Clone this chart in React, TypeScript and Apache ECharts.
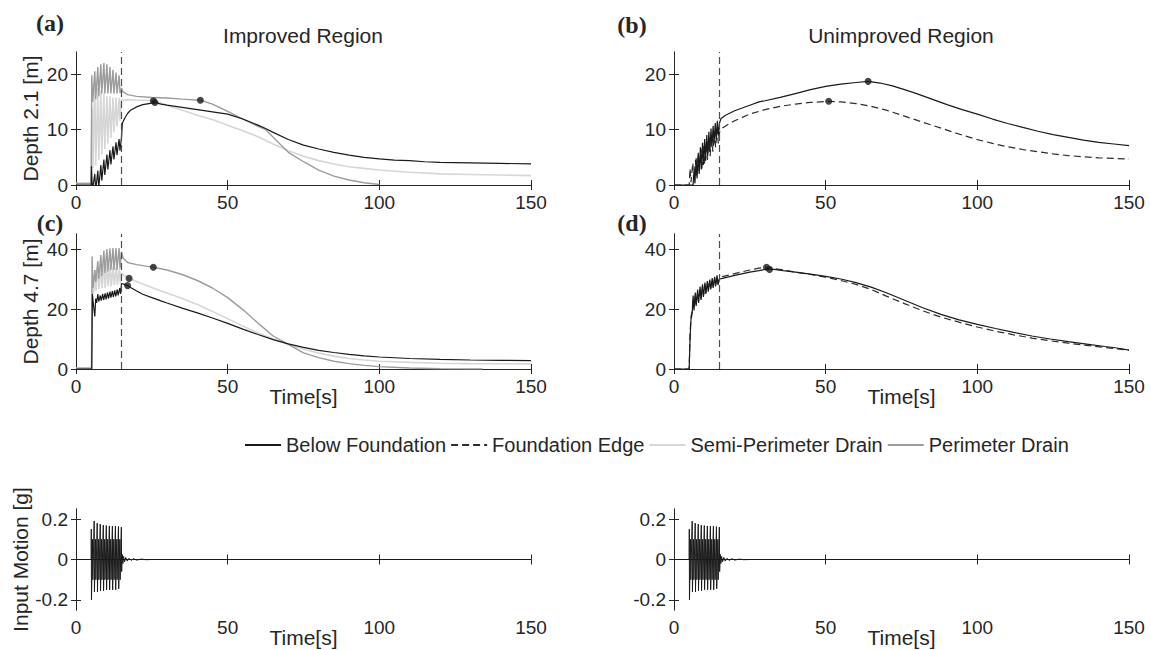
import React, { useEffect, useRef } from 'react';
import * as echarts from 'echarts';

const FONT = '"Liberation Sans", Arial, Helvetica, sans-serif';
const SERIF = '"Liberation Serif", "Times New Roman", serif';
const TEXT = '#262626';

// ---- ticks ----
const X_TICKS = [0, 50, 100, 150];
const Y_TICKS_D21 = [0, 10, 20];
const Y_TICKS_D47 = [0, 20, 40];
const Y_TICKS_INPUT = [-0.2, 0, 0.2];
const SHAKE_END = 15;

// ---- legend / series names ----
const NAMES = ['Below Foundation', 'Foundation Edge', 'Semi-Perimeter Drain', 'Perimeter Drain'];

// ---- (a) Improved region, depth 2.1 m ----
const A_BELOW = [[0,0],[5,0],[5.1,3.4],[5.4,-1],[6.2,2.0],[6.5,-1],[7.2,2.6],[7.5,-0.5],[8.2,3.6],[8.5,0.8],[9.2,4.6],[9.5,1.8],[10.2,5.5],[10.5,2.8],[11.2,6.3],[11.5,3.7],[12.2,7.0],[12.5,4.6],[13.2,7.7],[13.5,5.4],[14.2,8.3],[14.5,6.2],[15,8.6],[15.3,11.2],[16,12.0],[17,12.9],[18,13.5],[20,14.1],[22,14.5],[24,14.7],[26,14.9],[28,14.6],[30,14.4],[35,14.0],[40,13.6],[45,13.2],[50,12.8],[55,11.9],[60,10.8],[62.5,10.2],[65,9.5],[70,8.2],[75,7.2],[80,6.5],[85,5.9],[90,5.4],[95,5.0],[100,4.7],[105,4.5],[110,4.4],[115,4.2],[120,4.1],[130,4.0],[140,3.9],[150,3.8]];
const A_SEMI = [[0,0.3],[5,0.3],[5.3,14],[5.6,3],[6.2,19.5],[6.5,3.5],[7.2,17.5],[7.5,4.5],[8.2,17],[8.5,5.5],[9.2,16.5],[9.5,6.5],[10.2,16],[10.5,7.5],[11.2,16],[11.5,8.5],[12.2,15.8],[12.5,9.5],[13.2,15.8],[13.5,10.5],[14.2,15.7],[14.5,11.5],[15,15.5],[15.5,15.3],[17,15.4],[20,15.3],[23,15.3],[25.5,15.2],[28,14.8],[30,14.4],[35,13.5],[40,12.6],[45,11.8],[50,10.8],[55,9.8],[60,8.7],[65,7.4],[70,6.2],[75,5.2],[80,4.4],[85,3.8],[90,3.3],[95,3.0],[100,2.7],[110,2.3],[120,2.0],[130,1.9],[140,1.8],[150,1.7]];
const A_PERIM = [[0,0.3],[5,0.3],[5.2,19.8],[5.5,15],[6.2,20.5],[6.5,15.5],[7.2,21.3],[7.5,16],[8.2,21.8],[8.5,16.5],[9.2,22],[9.5,16.5],[10.2,21.8],[10.5,16.5],[11.2,21.3],[11.5,16.5],[12.2,20.8],[12.5,16.5],[13.2,20.3],[13.5,16.5],[14.2,19.8],[14.5,16.6],[15,17.5],[15.5,16.8],[17,16.3],[20,16.0],[25,15.8],[30,15.7],[35,15.5],[41,15.3],[45,14.6],[50,13.3],[55,11.9],[60,10.6],[62.5,10.0],[65,8.6],[70,5.9],[75,4.2],[80,2.7],[85,1.6],[90,0.9],[95,0.4],[100,0.1]];
const A_PEAKS = [[25.5,15.2],[26,14.9],[41,15.3]];

// ---- (b) Unimproved region, depth 2.1 m ----
const B_BELOW = [[0,0],[6.3,0],[6.6,2.5],[6.9,0.3],[7.3,4.8],[7.6,1.2],[8.0,5.8],[8.3,2.0],[8.7,6.8],[9.0,2.8],[9.4,7.6],[9.7,3.6],[10.1,8.3],[10.4,4.4],[10.8,9.0],[11.1,5.2],[11.5,9.6],[11.8,6.0],[12.2,10.2],[12.5,6.8],[12.9,10.7],[13.2,7.5],[13.6,11.2],[13.9,8.2],[14.3,11.6],[14.6,8.9],[15,11.2],[15.5,12.0],[17,12.6],[20,13.4],[25,14.4],[28,15.0],[30,15.2],[35,15.8],[40,16.5],[45,17.2],[50,17.8],[55,18.2],[60,18.5],[64,18.7],[68,18.4],[72,17.9],[76,17.2],[80,16.5],[85,15.5],[90,14.5],[95,13.6],[100,12.8],[105,11.9],[110,11.1],[115,10.4],[120,9.7],[125,9.1],[130,8.6],[135,8.1],[140,7.7],[145,7.4],[150,7.1]];
const B_EDGE = [[0,0],[5,0],[5.3,3],[5.6,0.5],[6.2,4],[6.5,1],[7.1,4.5],[7.4,1.5],[8,5.5],[8.3,2.5],[8.9,6.5],[9.2,3],[9.8,7],[10.1,3.8],[10.7,7.8],[11,4.5],[11.6,8.5],[11.9,5.2],[12.5,9],[12.8,6],[13.4,9.5],[13.7,6.8],[14.3,10],[14.6,7.5],[15,9.5],[16,10.3],[18,11],[20,11.6],[25,12.8],[30,13.6],[35,14.2],[40,14.6],[45,14.9],[51,15.1],[55,15.0],[60,14.7],[65,14.2],[70,13.5],[75,12.6],[80,11.7],[85,10.8],[90,9.9],[95,9.0],[100,8.2],[105,7.5],[110,6.9],[115,6.4],[120,6.0],[125,5.6],[130,5.3],[135,5.1],[140,4.9],[145,4.8],[150,4.7]];
const B_PEAKS = [[64,18.7],[51,15.1]];

// ---- (c) Improved region, depth 4.7 m ----
const C_BELOW = [[0,0],[5.2,0],[5.4,25],[5.8,21],[6.2,17.5],[6.5,23.5],[6.8,22],[7.2,25],[7.5,22.5],[8,24.5],[8.3,22.8],[8.8,25],[9.1,23],[9.6,25.2],[9.9,23.2],[10.4,25.5],[10.7,23.5],[11.2,25.8],[11.5,23.8],[12,26],[12.3,24],[12.8,26.2],[13.1,24.2],[13.6,26.5],[13.9,24.5],[14.4,27],[14.7,25],[15,28.5],[16,28.2],[17,27.8],[18,27.2],[20,26.0],[22,24.9],[25,23.8],[28,22.7],[30,22.0],[35,20.3],[40,18.7],[45,17.0],[50,15.2],[55,13.3],[60,11.5],[65,9.8],[70,8.4],[75,7.2],[80,6.2],[85,5.5],[90,4.9],[95,4.4],[100,4.0],[110,3.5],[120,3.2],[130,3.0],[140,2.9],[150,2.8]];
const C_SEMI = [[0,0.3],[5.2,0.3],[5.4,30],[5.8,25],[6.3,33],[6.6,26],[7.3,34],[7.6,26.5],[8.3,34.5],[8.6,27],[9.3,35],[9.6,27],[10.3,35],[10.6,27.5],[11.3,35],[11.6,27.5],[12.3,34.5],[12.6,28],[13.3,34],[13.6,28],[14.3,33.5],[14.6,28.5],[15,32],[16,31],[17.5,30.2],[20,29.2],[22,28.3],[25,27.2],[28,26.0],[30,25.3],[35,23.5],[40,21.5],[45,19.2],[50,16.8],[55,14.3],[60,12.0],[65,10.0],[70,8.2],[75,6.6],[80,5.3],[85,4.3],[90,3.5],[95,3.0],[100,2.6],[110,2.2],[120,1.9],[130,1.8],[150,1.7]];
const C_PERIM = [[0,0.3],[5.1,0.3],[5.3,37.5],[5.6,27],[6.2,33],[6.5,29],[7.2,36],[7.5,30],[8.2,38],[8.5,31],[9.2,39.5],[9.5,32],[10.2,40],[10.5,32.5],[11.2,40.2],[11.5,33],[12.2,40.3],[12.5,33],[13.2,40.3],[13.5,33],[14.2,40.3],[14.5,33.5],[15,39],[15.5,37],[17,35.5],[20,34.8],[23,34.3],[25.5,33.9],[30,33.0],[35,31.5],[40,29.5],[45,27],[50,23.8],[55,19.8],[60,15.3],[65,11.0],[70,8.2],[75,5.4],[80,3.8],[85,2.6],[90,1.8],[95,1.2],[100,0.8],[110,0.35],[120,0.1],[134,0]];
const C_PEAKS = [[25.5,33.9],[17.5,30.2],[17,27.8]];

// ---- (d) Unimproved region, depth 4.7 m ----
const D_BELOW = [[0,0],[5,0],[5.3,10],[5.6,16.5],[6,18.5],[6.3,24.5],[6.6,19.5],[7,25.5],[7.3,21],[7.8,26.5],[8.1,22],[8.6,27.5],[8.9,23],[9.4,28.2],[9.7,24],[10.2,28.8],[10.5,25],[11,29.3],[11.3,25.8],[11.8,29.8],[12.1,26.5],[12.6,30.3],[12.9,27],[13.4,30.7],[13.7,27.5],[14.2,31.2],[14.5,28],[15,30],[16,30.2],[18,30.7],[20,31.2],[25,32.3],[28,32.8],[30.5,33.3],[33,33.2],[36,32.8],[40,32.3],[45,31.6],[50,30.9],[55,30.0],[60,28.8],[65,27.3],[70,25.4],[76,22.9],[82,20.4],[88,18.2],[94,16.4],[100,14.9],[106,13.5],[112,12.2],[118,11.0],[124,10.0],[130,9.1],[136,8.3],[142,7.5],[146,7.0],[150,6.3]];
const D_EDGE = [[0,0],[5,0],[5.3,12],[5.6,17.5],[6,19.5],[6.3,23.5],[6.6,20.5],[7,24.5],[7.3,21.5],[7.8,25.5],[8.1,22.5],[8.6,26.5],[8.9,23.5],[9.4,27.5],[9.7,24.5],[10.2,28.2],[10.5,25.5],[11,28.8],[11.3,26.3],[11.8,29.3],[12.1,27],[12.6,29.8],[12.9,27.5],[13.4,30.2],[13.7,28],[14.2,30.6],[14.5,28.5],[15,30.5],[16,30.8],[18,31.3],[20,31.8],[25,33.0],[28,33.6],[30,33.9],[33,33.5],[36,33.0],[40,32.3],[45,31.5],[50,30.6],[55,29.5],[60,28.2],[65,26.5],[70,24.3],[76,21.8],[82,19.4],[88,17.3],[94,15.6],[100,14.0],[106,12.6],[112,11.4],[118,10.3],[124,9.4],[130,8.6],[136,7.9],[142,7.2],[146,6.7],[150,6.3]];
const D_PEAKS = [[30.5,33.9],[31.5,33.2]];

// ---- input motion [g] ----
const INPUT = [[0,0],[5,0],[5.04,0.15],[5.1,-0.2],[5.45,0.1],[5.55,-0.1],
[6.0,0.19],[6.08,-0.16],[6.45,0.1],[6.55,-0.1],
[7.0,0.18],[7.08,-0.16],[7.45,0.1],[7.55,-0.1],
[8.0,0.175],[8.08,-0.155],[8.45,0.1],[8.55,-0.1],
[9.0,0.17],[9.08,-0.155],[9.45,0.1],[9.55,-0.1],
[10.0,0.168],[10.08,-0.15],[10.45,0.1],[10.55,-0.1],
[11.0,0.166],[11.08,-0.15],[11.45,0.1],[11.55,-0.1],
[12.0,0.165],[12.08,-0.15],[12.45,0.1],[12.55,-0.1],
[13.0,0.165],[13.08,-0.15],[13.45,0.1],[13.55,-0.1],
[14.0,0.163],[14.08,-0.145],[14.45,0.1],[14.55,-0.1],
[14.95,0.16],[15.05,-0.06],[15.25,0.025],[15.45,-0.02],[15.7,0.015],[16.0,-0.012],[16.4,0.01],[16.9,-0.008],[17.5,0.006],[18.2,-0.005],[19,0.004],[20,-0.003],[21.5,0.002],[23,-0.001],[25,0],[150,0]];

const C_BLACK = '#1a1a1a';
const C_EDGE = '#2e2e2e';
const C_SEMI_COL = '#d6d6d6';
const C_PERIM_COL = '#9c9c9c';

const GRIDS = [
  { left: 76, top: 52, width: 455, height: 133 },
  { left: 674, top: 52, width: 455, height: 133 },
  { left: 76, top: 234, width: 455, height: 135 },
  { left: 674, top: 234, width: 455, height: 135 },
  { left: 76, top: 509, width: 455, height: 101 },
  { left: 674, top: 509, width: 455, height: 101 },
];
const Y_RANGES = [[0, 24], [0, 24], [0, 45], [0, 45], [-0.25, 0.25], [-0.25, 0.25]];
const Y_TICKS = [Y_TICKS_D21, Y_TICKS_D21, Y_TICKS_D47, Y_TICKS_D47, Y_TICKS_INPUT, Y_TICKS_INPUT];
const Y_NAMES = ['Depth 2.1 [m]', '', 'Depth 4.7 [m]', '', 'Input Motion [g]', ''];
const Y_NAME_GAPS = [35, 35, 35, 35, 45, 45];
const X_NAMES = ['', '', 'Time[s]', 'Time[s]', 'Time[s]', 'Time[s]'];

export default function App() {
  const ref = useRef<HTMLDivElement>(null);
  useEffect(() => {
    const chart = echarts.init(ref.current!, null, { renderer: 'svg' });
    const axisLine = { show: true, lineStyle: { color: TEXT, width: 1 } };
    const xAxis: any[] = [];
    const yAxis: any[] = [];
    GRIDS.forEach((_, gi) => {
      xAxis.push({
        type: 'value', gridIndex: gi, min: 0, max: 150, position: 'bottom',
        axisLine, splitLine: { show: false },
        axisTick: { show: true, inside: true, length: 5, customValues: X_TICKS, lineStyle: { color: TEXT } },
        axisLabel: { show: true, customValues: X_TICKS, fontSize: 19, color: TEXT, fontFamily: FONT, margin: 8 },
        name: X_NAMES[gi], nameLocation: 'middle', nameGap: 17, nameMoveOverlap: false,
        nameTextStyle: { fontSize: 21, color: TEXT, fontFamily: FONT, verticalAlign: 'top' },
      });
      xAxis.push({
        type: 'value', gridIndex: gi, min: 0, max: 150, position: 'top',
        axisLine, splitLine: { show: false },
        axisTick: { show: true, inside: true, length: 5, customValues: X_TICKS, lineStyle: { color: TEXT } },
        axisLabel: { show: false },
      });
      yAxis.push({
        type: 'value', gridIndex: gi, min: Y_RANGES[gi][0], max: Y_RANGES[gi][1], position: 'left',
        axisLine, splitLine: { show: false },
        axisTick: { show: true, inside: true, length: 5, customValues: Y_TICKS[gi], lineStyle: { color: TEXT } },
        axisLabel: { show: true, customValues: Y_TICKS[gi], fontSize: 19, color: TEXT, fontFamily: FONT, margin: 8 },
        name: Y_NAMES[gi], nameLocation: 'middle', nameRotate: 90, nameGap: Y_NAME_GAPS[gi], nameMoveOverlap: false,
        nameTextStyle: { fontSize: 21, color: TEXT, fontFamily: FONT },
      });
      yAxis.push({
        type: 'value', gridIndex: gi, min: Y_RANGES[gi][0], max: Y_RANGES[gi][1], position: 'right',
        axisLine, splitLine: { show: false },
        axisTick: { show: true, inside: true, length: 5, customValues: Y_TICKS[gi], lineStyle: { color: TEXT } },
        axisLabel: { show: false },
      });
    });

    const line = (name: string, data: number[][], color: string, gi: number, dashed = false, z = 2, width = 1.2) => ({
      type: 'line', name, data, xAxisIndex: 2 * gi, yAxisIndex: 2 * gi,
      symbol: 'none', silent: true, z, clip: true,
      lineStyle: { color, width, type: dashed ? [7, 4] : 'solid' },
      itemStyle: { color },
    });
    const vline = (gi: number) => ({
      type: 'line', name: 'shake-end', data: [], xAxisIndex: 2 * gi, yAxisIndex: 2 * gi, silent: true,
      markLine: {
        silent: true, symbol: ['none', 'none'], label: { show: false },
        lineStyle: { color: '#4d4d4d', type: [7, 4], width: 1.2 },
        data: [{ xAxis: SHAKE_END }],
      },
    });
    const dots = (data: number[][], gi: number) => ({
      type: 'scatter', name: 'peak', data, xAxisIndex: 2 * gi, yAxisIndex: 2 * gi,
      symbolSize: 7, silent: true, z: 6, itemStyle: { color: C_BLACK },
    });

    const series: any[] = [
      line(NAMES[0], A_BELOW, C_BLACK, 0, false, 4),
      line(NAMES[1], B_EDGE, C_EDGE, 1, true, 3),
      line(NAMES[2], A_SEMI, C_SEMI_COL, 0, false, 2, 1.6),
      line(NAMES[3], A_PERIM, C_PERIM_COL, 0, false, 3, 1.4),
      vline(0), dots(A_PEAKS, 0),
      line(NAMES[0], B_BELOW, C_BLACK, 1, false, 4),
      vline(1), dots(B_PEAKS, 1),
      line(NAMES[2], C_SEMI, C_SEMI_COL, 2, false, 2, 1.6),
      line(NAMES[3], C_PERIM, C_PERIM_COL, 2, false, 3, 1.4),
      line(NAMES[0], C_BELOW, C_BLACK, 2, false, 4),
      vline(2), dots(C_PEAKS, 2),
      line(NAMES[1], D_EDGE, C_EDGE, 3, true, 3),
      line(NAMES[0], D_BELOW, C_BLACK, 3, false, 4),
      vline(3), dots(D_PEAKS, 3),
      line('Input Motion', INPUT, C_BLACK, 4, false, 3, 1),
      line('Input Motion', INPUT, C_BLACK, 5, false, 3, 1),
    ];

    const txt = (text: string, x: number, y: number, font: string, size: number, bold = false) => ({
      type: 'text', x, y, silent: true,
      style: { text, fill: TEXT, font: `${bold ? 'bold ' : ''}${size}px ${font}`, align: 'center', verticalAlign: 'middle' },
    });

    chart.setOption({
      animation: false,
      backgroundColor: '#ffffff',
      textStyle: { fontFamily: FONT },
      grid: GRIDS.map((g) => ({ ...g, containLabel: false })),
      xAxis, yAxis, series,
      legend: {
        data: NAMES, left: 239, top: 430, itemWidth: 36, itemHeight: 12, itemGap: 4,
        itemStyle: { opacity: 0 },
        textStyle: { fontSize: 20, color: TEXT, fontFamily: FONT },
        selectedMode: false,
      },
      graphic: [
        txt('(a)', 50, 23, SERIF, 24, true),
        txt('(b)', 632, 25, SERIF, 24, true),
        txt('(c)', 50, 223, SERIF, 24, true),
        txt('(d)', 632, 223, SERIF, 24, true),
        txt('Improved Region', 303, 35, FONT, 21),
        txt('Unimproved Region', 901, 35, FONT, 21),
      ],
    });
    return () => chart.dispose();
  }, []);
  return <div ref={ref} style={{ position: 'fixed', left: 0, top: 0, width: 1150, height: 650, background: '#fff' }} />;
}
